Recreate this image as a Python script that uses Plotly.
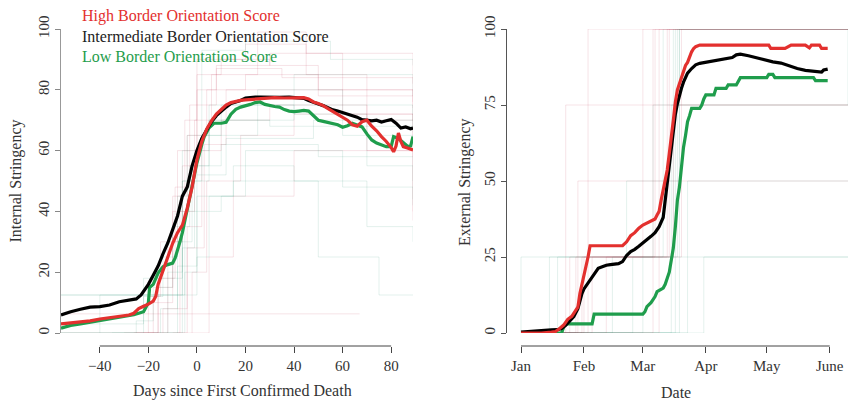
import plotly.graph_objects as go
import pandas as pd

# ---------------- Left panel: Internal stringency vs days since first death
high_int_days = [-56,-52,-48,-44,-40,-36,-32,-28,-26,-24,-22,-20,-18,-17,-16,-14,-12,-10,-8,-6,-4,-2,0,2,4,6,8,10,12,14,16,18,20,24,28,32,36,40,44,46,48,50,52,54,56,58,60,62,64,66,68,70,72,74,76,78,80,81,82,83,84,85,87,89]
high_int_vals = [3,3.3,3.6,4,4.6,5,5.5,5.9,6.5,8,8.8,9.5,10.5,12,16,20.5,25,29.5,33,35.5,41,48,57,63,67,69.8,72,73.5,75,75.8,76.2,76.5,76.7,77,77.3,77.4,77.3,77.4,77.4,77,76,75.5,74.8,73.8,72.8,72,71,70,68.5,68,69.5,70,68,66.5,64.6,63,61,59.6,61.5,65.8,63,61.3,60.8,60.2]

mid_int_days = [-56,-52,-48,-44,-40,-36,-32,-28,-25,-23,-21,-20,-18,-16,-14,-12,-10,-8,-6,-4,-2,0,2,4,6,8,10,12,14,16,18,20,22,24,26,30,34,38,42,44,46,48,50,52,54,56,58,60,62,64,66,68,70,72,74,76,78,80,82,84,86,88,89]
mid_int_vals = [5.9,7,7.8,8.5,8.7,9.2,10.3,10.9,11.2,12.5,15,16,19,22,26,29.6,34,38.5,45,48,55,60,64,67,69.5,71.5,73,74.3,75.5,76,76.5,77.3,77.5,77.6,77.6,77.5,77.5,77.6,77.5,77.2,76.5,75.8,75.3,74.8,74,73.4,73,72.5,72,71.7,71,70.2,70,69.8,70,69.4,69.8,70.2,69,67.4,67.8,67.2,67.4]

low_int_days = [-56,-52,-48,-44,-40,-36,-32,-28,-26,-24,-22,-21,-20,-19.5,-18,-16,-14,-12,-10,-9,-8,-7,-6,-5,-4,-3,-2,0,2,3,5,7,10,12,14,16,18,20,22,24,26,28,30,32,34,36,38,40,42,44,46,48,50,52,54,56,58,60,62,64,66,68,70,72,74,76,78,80,81,83,85,87,88,89]
low_int_vals = [1.6,2.5,3,3.5,4,4.6,5.2,5.5,6,6.5,7,8.5,10,15,16,19.7,21.8,22.5,23,24.6,27,30,33,37,41,45,49,56,62,64.6,67.5,69,69,69.3,72,73.6,74.3,74.7,75.2,75.8,76,75.2,74.8,74.5,74.3,73.5,73,72.8,73,73.2,73,71.5,70,69.6,69.2,69,68.5,67.7,68.2,69,68.5,67.8,65.5,63.5,62.5,61.8,61.3,61.3,64.6,64,62.5,61.3,61.5,64.6]

# faint individual-country step lines (left panel)
faint_int = [
    ("r", [-56,-20,-15,-8,0,10,30,50,89], [0,12,30,60,85,90,88,80,78]),
    ("g", [-56,-10,-5,0,5,40,70,89], [12.5,12.5,40,60,75,72,55,50]),
    ("r", [-56,-3,5,15,40,89], [6.3,6.3,25,45,60,37]),
    ("g", [-56,-25,-12,-6,2,25,60,89], [0,0,20,50,65,80,65,60]),
    ("r", [-30,-18,-10,-5,0,20,45,70,89], [0,10,45,70,90,95,85,70,65]),
    ("g", [-40,-15,-8,-2,10,50,89], [0,8,30,55,62,58,42]),
    ("r", [-20,-12,-6,0,8,30,60,89], [0,30,55,80,88,92,80,74]),
    ("g", [-56,-5,0,5,15,50,75,89], [12.5,12.5,25,45,50,25,12.5,12.5]),
    ("r", [-2,5,67], [0,6.3,6.3]),
    ("g", [-35,-22,-14,-8,-4,10,35,89], [0,12,25,45,65,75,75,70]),
    ("r", [-25,-16,-10,-4,4,20,50,89], [0,15,40,65,80,85,78,70]),
    ("g", [-15,-5,0,10,20,60,89], [0,20,40,45,60,48,44]),
    ("r", [-10,-4,2,10,30,70,89], [0,35,60,70,75,60,58]),
    ("g", [-56,-25,-18,-10,-3,5,40,89], [0,4,15,35,55,70,85,78]),
    ("r", [-8,-2,4,18,40,89], [0,20,50,65,72,70]),
    ("g", [-18,-8,0,15,40,70,89], [0,22,45,55,50,35,30]),
    ("g", [-56,-22,-6,2,20,55,89], [3,18,60,93,96,90,88]),
    ("r", [-14,-7,-1,6,25,45,89], [0,40,70,85,99,92,82]),
    ("g", [-56,-40,-20,-6,5,30,89], [0,12.5,12.5,50,70,68,75]),
    ("r", [-26,-14,-4,3,12,60,89], [0,8,28,62,80,72,40]),
    ("r", [-22,-16,-9,-3,8,35,89], [0,18,48,75,87,84,76]),
    ("g", [-12,-6,-1,12,48,89], [0,28,52,64,70,66]),
]

# ---------------- Right panel: External stringency vs date (days after 1 Jan 2020)
high_ext_days = [0,5,10,15,17,19,21,23,25,27,28,29,30,31,32,33,34,40,45,50,52,54,56,58,60,62,64,66,67,68,69,70,71,72,73,74,75,76,77,78,79,80,81,82,83,84,85,86,88,100,110,122,123,130,133,140,142,143,147,148,151]
high_ext_vals = [0,0,0,0.3,0.5,1.5,2.6,4.5,5.5,7.5,8.5,13,16,18,21,25,28.7,28.7,28.7,28.7,30,32,33,34.5,35.5,36.2,36.8,37.5,38.8,40,43.7,47,50,53.6,59,64,70,76,80,82,84,86,88,89,91,92.5,93.6,94.2,94.7,94.7,94.7,94.7,93.6,93.6,94.7,94.7,93.8,94.7,94.7,93.6,93.6]

mid_ext_days = [0,4,7,10,15,18,20,22,24,26,28,29,30,31,33,35,37,38,40,42,44,46,48,50,52,54,56,58,60,62,64,66,68,70,71,72,73,74,75,76,77,78,79,80,81,82,84,86,88,92,96,100,104,106,108,112,116,120,124,128,132,136,140,144,148,149,151]
mid_ext_vals = [0.3,0.5,0.8,1,1,1.1,1.5,2.5,4,5.4,8,11,13,14.5,16.4,18.5,20.5,21.3,21.8,22.3,22.5,22.6,22.8,23.5,25.5,26.8,27.5,28.5,29.5,30.5,31.8,33,35,38,43.7,49,55,62,67,72,75.5,78.5,80.5,82.5,84,85.5,87,88.2,88.7,89.2,89.8,90.3,90.6,91.5,91.7,91.2,90.5,90,89.2,88.8,87.8,87,86.4,86.2,85.8,86.5,86.8]

low_ext_days = [0,20,21,22,25,30,35,36,40,50,60,61,62,64,66,67,70,71,72,73,74,75,76,77,78,79,80,81,82,83,84,88,89,90,91,95,96,101,102,106,107,108,121,122,124,125,144,145,151]
low_ext_vals = [0,0,2,3,3,3,3,6.2,6.2,6.2,6.2,7,8.7,10,12,13.6,14.8,16,18,20,24,28,35,43.7,48,56,61,65,69.5,71.5,73.9,73.9,75,77,78.3,78.3,80.5,80.5,81.6,81.6,83,84,84,85.1,85.1,84,84,83,83]

faint_ext = [
    ("r", [0,22,161], [0,75,75]),
    ("r", [0,28,161], [0,50,50]),
    ("g", [0,14,70,161], [0,25,100,100]),
    ("r", [0,27,60,161], [0,25,100,100]),
    ("g", [0,18,52,78,161], [0,25,50,100,100]),
    ("r", [0,31,72,161], [0,25,100,100]),
    ("g", [0,76,161], [0,100,100]),
    ("r", [0,68,161], [0,100,100]),
    ("g", [0,74,161], [0,75,75]),
    ("r", [0,35,79,161], [0,25,100,100]),
    ("g", [0,45,65,161], [0,25,75,100]),
    ("g", [0,0,80,161], [0,25,25,25]),
    ("r", [0,24,66,161], [0,25,100,100]),
    ("g", [0,78,161], [0,100,100]),
    ("r", [0,30,75,161], [0,25,75,75]),
    ("g", [0,60,75,161], [0,25,100,100]),
    ("r", [0,33,71,161], [0,100,100,100]),
    ("g", [0,82,161], [0,50,50]),
    ("r", [0,42,73,161], [0,25,100,100]),
    ("g", [0,55,77,161], [0,25,100,100]),
    ("r", [0,65,161], [0,100,100]),
    ("g", [0,90,161], [0,25,25]),
]

x_ticks_left = [-40, -20, 0, 20, 40, 60, 80]
y_ticks_left = [0, 20, 40, 60, 80, 100]
month_tick_days = [0, 31, 60, 91, 121, 152]
month_labels = ["Jan", "Feb", "Mar", "Apr", "May", "June"]
y_ticks_right = [0, 25, 50, 75, 100]

legend_labels = ["High Border Orientation Score",
                 "Intermediate Border Orientation Score",
                 "Low Border Orientation Score"]

RED = "#E3302E"
BLACK = "#000000"
GREEN = "#1F9D4C"
FAINT = {"r": "rgba(190,40,70,0.16)", "g": "rgba(40,140,110,0.16)"}
FONT = "Liberation Serif"

base = pd.Timestamp("2020-01-01")
def to_dates(days):
    return [base + pd.Timedelta(days=d) for d in days]

fig = go.Figure()

for c, xs, ys in faint_int:
    fig.add_trace(go.Scatter(x=xs, y=ys, mode="lines", line=dict(color=FAINT[c], width=0.8, shape="hv"),
                             hoverinfo="skip", showlegend=False, xaxis="x", yaxis="y"))
for c, xs, ys in faint_ext:
    fig.add_trace(go.Scatter(x=to_dates(xs), y=ys, mode="lines", line=dict(color=FAINT[c], width=0.8, shape="hv"),
                             hoverinfo="skip", showlegend=False, xaxis="x2", yaxis="y2"))

for xs, ys, col in [(low_int_days, low_int_vals, GREEN), (mid_int_days, mid_int_vals, BLACK), (high_int_days, high_int_vals, RED)]:
    fig.add_trace(go.Scatter(x=xs, y=ys, mode="lines", line=dict(color=col, width=3.2),
                             showlegend=False, xaxis="x", yaxis="y"))
for xs, ys, col in [(low_ext_days, low_ext_vals, GREEN), (mid_ext_days, mid_ext_vals, BLACK), (high_ext_days, high_ext_vals, RED)]:
    fig.add_trace(go.Scatter(x=to_dates(xs), y=ys, mode="lines", line=dict(color=col, width=3.2),
                             showlegend=False, xaxis="x2", yaxis="y2"))

# page body margin is removed by post_script below, so figure pixels == page pixels
W, H = 848, 402
def fx(px):
    return px / W
def fy(py):
    return 1 - py / H

ydom = [fy(333), fy(29)]
xpos = fy(346)
tickfont = dict(family=FONT, size=15, color="#333")

fig.update_layout(
    template="none",
    width=W, height=H, margin=dict(l=0, r=0, t=0, b=0, pad=0, autoexpand=False),
    paper_bgcolor="white", plot_bgcolor="white",
    font=dict(family=FONT, color="#333"),
    hovermode=False,
    xaxis=dict(domain=[fx(61), fx(413)], range=[-56, 89], anchor="free", position=xpos, automargin=False,
               tickvals=x_ticks_left, ticktext=[str(v).replace("-", "\u2212") for v in x_ticks_left],
               ticks="outside", ticklen=6, tickcolor="#444", showline=False,
               showgrid=False, zeroline=False, tickfont=tickfont),
    yaxis=dict(domain=ydom, range=[0, 100], anchor="x", tickvals=y_ticks_left, automargin=False,
               ticks="outside", ticklen=5, tickcolor="#888", showline=True, linecolor="#999", linewidth=1.5,
               showgrid=False, zeroline=False, tickangle=-90, tickfont=tickfont),
    xaxis2=dict(domain=[fx(507), 1.0], range=[base - pd.Timedelta(days=6.9), base + pd.Timedelta(days=161)],
                type="date", anchor="free", position=xpos, automargin=False,
                tickvals=to_dates(month_tick_days), ticktext=month_labels,
                ticks="outside", ticklen=6, tickcolor="#444", showline=False,
                showgrid=False, zeroline=False, tickfont=tickfont),
    yaxis2=dict(domain=ydom, range=[0, 100], anchor="x2", tickvals=y_ticks_right, automargin=False,
                ticks="outside", ticklen=5, tickcolor="#555", showline=True, linecolor="#555", linewidth=1,
                showgrid=False, zeroline=False, tickangle=-90, tickfont=tickfont),
)

# R-style axis lines spanning first to last tick
fig.add_shape(type="line", xref="x", yref="paper", x0=x_ticks_left[0], x1=x_ticks_left[-1], y0=xpos, y1=xpos,
              line=dict(color="#444", width=1))
fig.add_shape(type="line", xref="x2", yref="paper", x0=to_dates(month_tick_days)[0], x1=to_dates(month_tick_days)[-1],
              y0=xpos, y1=xpos, line=dict(color="#444", width=1))

# legend text
for lab, col, ypx in zip(legend_labels, [RED, "#222", GREEN], [15.5, 36, 57]):
    fig.add_annotation(text=lab, xref="paper", yref="paper", x=fx(80), y=fy(ypx),
                       xanchor="left", yanchor="middle", showarrow=False,
                       font=dict(family=FONT, size=16, color=col))

# axis titles
titles = [("Days since First Confirmed Death", 243, 391, 0),
          ("Date", 676, 392, 0),
          ("Internal Stringency", 15.5, 181, -90),
          ("External Stringency", 465, 182, -90)]
for txt, xp, yp, ang in titles:
    fig.add_annotation(text=txt, xref="paper", yref="paper", x=fx(xp), y=fy(yp),
                       xanchor="center", yanchor="middle", showarrow=False, textangle=ang,
                       font=dict(family=FONT, size=16, color="#333"))

fig.write_html("out.html", config={"displayModeBar": False, "staticPlot": True},
               post_script="document.body.style.margin='0';document.body.style.overflow='hidden';")
